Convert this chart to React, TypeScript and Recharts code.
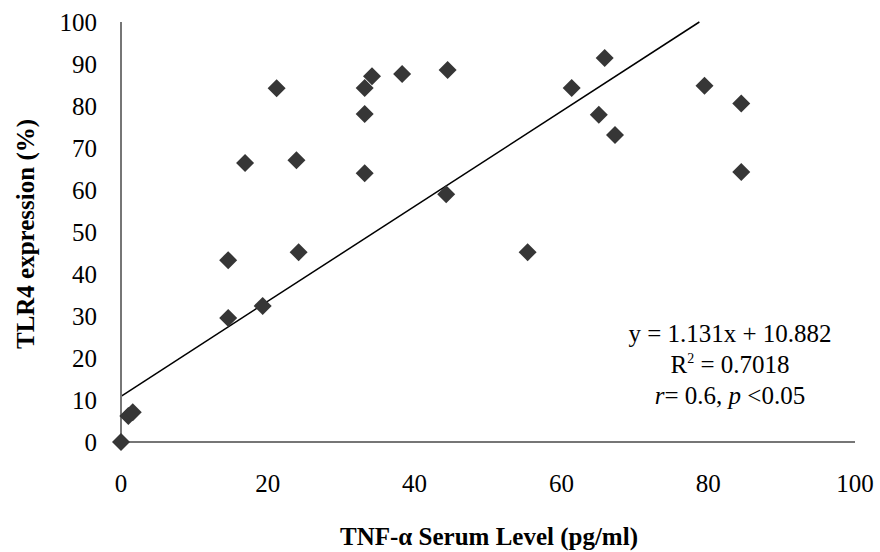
import React from 'react';
import { ScatterChart, Scatter, XAxis, YAxis, ReferenceLine } from 'recharts';

// TNF-α serum level (pg/ml) vs TLR4 expression (%)
const tnfLevel = [0, 1.0, 1.6, 14.6, 14.6, 16.9, 19.3, 21.2, 23.9, 24.2, 33.2, 34.2, 33.2, 33.2, 38.3, 44.5, 44.3, 55.4, 61.4, 65.9, 65.1, 67.3, 79.5, 84.5, 84.5];
const tlr4Expr = [0, 6.2, 7.1, 43.3, 29.5, 66.4, 32.4, 84.2, 67.1, 45.2, 84.3, 87.1, 78.1, 64.0, 87.6, 88.6, 59.0, 45.2, 84.3, 91.4, 77.9, 73.1, 84.8, 80.6, 64.3];

const xTicks = [0, 20, 40, 60, 80, 100];
const yTicks = [0, 10, 20, 30, 40, 50, 60, 70, 80, 90, 100];

// linear fit shown on the chart
const slope = 1.131;
const intercept = 10.882;
const trendStartX = 0;
const trendEndX = (100 - intercept) / slope;

const points = tnfLevel.map((x, i) => ({ x, y: tlr4Expr[i] }));

const FONT = '"Liberation Serif", "Times New Roman", serif';
const AXIS_COLOR = '#767676';
const MARK_COLOR = '#363636';

const Diamond = (props: any) => {
  const { cx, cy } = props;
  if (cx == null || cy == null) return null;
  const r = 9;
  return (
    <path
      d={`M${cx},${cy - r}L${cx + r},${cy}L${cx},${cy + r}L${cx - r},${cy}Z`}
      fill={MARK_COLOR}
    />
  );
};

export default function App() {
  return (
    <div style={{ position: 'relative', width: 880, height: 552, background: '#fff', fontFamily: FONT }}>
      <style>{'body { margin: 0; }'}</style>
      <ScatterChart width={880} height={552} margin={{ top: 22, right: 25, left: 21, bottom: 0 }}>
        <XAxis
          type="number"
          dataKey="x"
          domain={[0, 100]}
          ticks={xTicks}
          height={110}
          axisLine={{ stroke: AXIS_COLOR, strokeWidth: 2 }}
          tickLine={false}
          tickSize={0}
          tickMargin={32}
          tick={{ fill: '#000', fontSize: 25, fontFamily: FONT }}
          label={{
            content: () => (
              <text
                x={489}
                y={545}
                textAnchor="middle"
                fontFamily={FONT}
                fontSize={25}
                fontWeight="bold"
                fill="#000"
              >
                TNF-α Serum Level (pg/ml)
              </text>
            ),
          }}
        />
        <YAxis
          type="number"
          dataKey="y"
          domain={[0, 100]}
          ticks={yTicks}
          width={100}
          axisLine={{ stroke: AXIS_COLOR, strokeWidth: 2 }}
          tickLine={false}
          tickSize={0}
          tickMargin={24}
          tick={{ fill: '#000', fontSize: 25, fontFamily: FONT }}
          label={{
            content: () => (
              <text
                x={25}
                y={234}
                transform="rotate(-90 25 234)"
                textAnchor="middle"
                dominantBaseline="central"
                fontFamily={FONT}
                fontSize={25}
                fontWeight="bold"
                fill="#000"
              >
                TLR4 expression (%)
              </text>
            ),
          }}
        />
        <ReferenceLine
          segment={[
            { x: trendStartX, y: intercept + slope * trendStartX },
            { x: trendEndX, y: intercept + slope * trendEndX },
          ]}
          stroke="#000"
          strokeWidth={1.5}
          ifOverflow="visible"
        />
        <Scatter data={points} shape={Diamond} isAnimationActive={false} />
      </ScatterChart>
      <div
        style={{
          position: 'absolute',
          left: 580,
          width: 300,
          top: 318,
          textAlign: 'center',
          fontSize: 25,
          lineHeight: '31px',
          color: '#000',
        }}
      >
        <div>y = {slope}x + {intercept}</div>
        <div>
          R<sup style={{ fontSize: 14, verticalAlign: 'top', lineHeight: '20px' }}>2</sup> = 0.7018
        </div>
        <div>
          <i>r</i>= 0.6, <i>p</i> &lt;0.05
        </div>
      </div>
    </div>
  );
}
